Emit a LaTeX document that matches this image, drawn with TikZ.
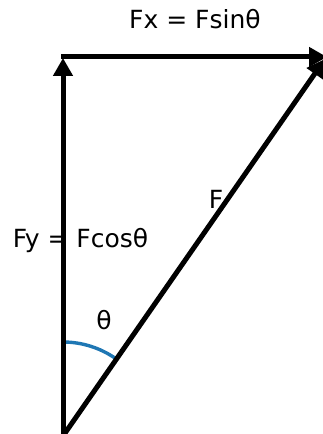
\documentclass[tikz,border=0pt]{standalone}
\usepackage{fontspec}
\setmainfont{DejaVu Sans}
\usetikzlibrary{arrows.meta}
\definecolor{mplblue}{HTML}{1F77B4}
\tikzset{
  vec/.style={line width=5pt, -{Triangle[length=18pt,width=19pt]}},
  lbl/.style={font=\fontsize{25}{30}\selectfont, inner sep=0pt, anchor=base},
  anglearc/.style={mplblue, line width=3.4pt}
}
\begin{document}
\begin{tikzpicture}[x=1pt,y=1pt]
\useasboundingbox (0,0) rectangle (323,434);
\clip (0,0) rectangle (323,434);
\node[lbl] (fx) at (195,405) {Fx = Fsinθ};
\node[lbl] (fy) at (80.5,186) {Fy = Fcosθ};
\node[lbl] (f) at (216,225) {F};
\node[lbl] (th) at (104,104) {θ};
\coordinate (O) at (63,-2);
\coordinate (V) at (63,376);
\coordinate (H) at (61,377);
\coordinate (T) at (327,377);
\coordinate (D) at (325,375);
\coordinate (A) at (63,92);
\draw[anglearc] (A) arc[start angle=90, end angle=55.2, radius=92];
\draw[vec] (O) -- (V);
\draw[vec] (H) -- (T);
\draw[vec] (O) -- (D);
\end{tikzpicture}
\end{document}
